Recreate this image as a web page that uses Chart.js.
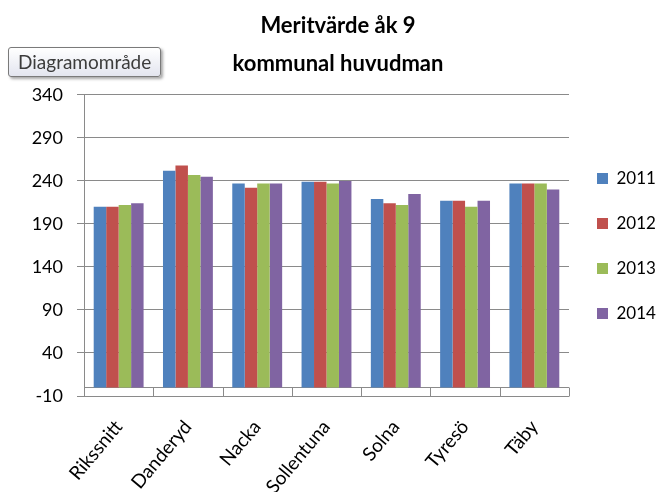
<!DOCTYPE html>
<html>
<head>
<meta charset="utf-8">
<script src="https://cdn.jsdelivr.net/npm/chart.js@4/dist/chart.umd.min.js"></script>
<style>
body{margin:0;background:#fff;}
#wrap{position:relative;width:658px;height:492px;}
#tip{
position:absolute;left:8px;top:47px;height:28px;
padding:0 9px;
border:1px solid #7a7a7a;border-radius:3px;
background:linear-gradient(#ffffff,#e3e5ef);
box-shadow:2px 2px 3px rgba(0,0,0,0.35);
font:19px Lato,sans-serif;color:#3c3c3c;line-height:28px;
}
</style>
</head>
<body>
<div id="wrap">
<canvas id="chart" width="658" height="492"></canvas>
<div id="tip">Diagramområde</div>
</div>
<script>
const categories = ["Rikssnitt","Danderyd","Nacka","Sollentuna","Solna","Tyresö","Täby"];
const years = ["2011","2012","2013","2014"];
const v2011 = [210,252,237,239,219,217,237];
const v2012 = [210,258,232,239,214,217,237];
const v2013 = [212,247,237,237,212,210,237];
const v2014 = [214,245,237,240,225,217,230];
const yTicks = [-10,40,90,140,190,240,290,340];
const colors = ["#4f81bd","#c0504d","#9bbb59","#8064a2"];

const series=[v2011,v2012,v2013,v2014];

// the little strip between 0 and -10 with separators
const stripPlugin={
id:"strip",
beforeDatasetsDraw(chart){
const ctx=chart.ctx;
const x=chart.scales.x;
const y=chart.scales.y;
const y0=Math.round(y.getPixelForValue(0))+0.5;
const y1=Math.round(y.getPixelForValue(-10))+0.5;
const step=x.getPixelForValue(1)-x.getPixelForValue(0);
ctx.save();
ctx.strokeStyle="#8a8a8a";
ctx.lineWidth=1;
ctx.beginPath();
ctx.moveTo(chart.chartArea.left,y0);
ctx.lineTo(chart.chartArea.right,y0);
for(let i=0;i<=categories.length;i++){
let px=Math.round(x.getPixelForValue(0)-step/2+i*step)+0.5;
ctx.moveTo(px,y0);
ctx.lineTo(px,y1);
}
ctx.stroke();
ctx.restore();
}
};

new Chart(document.getElementById("chart"),{
type:"bar",
data:{
labels:categories,
datasets:years.map((yr,i)=>({
label:yr,
data:series[i],
backgroundColor:colors[i],
borderWidth:0,
categoryPercentage:0.72,
barPercentage:1
}))
},
options:{
responsive:false,
animation:false,
layout:{padding:{left:18,right:0,top:0,bottom:0}},
plugins:{
tooltip:{enabled:false},
title:{
display:true,
text:["Meritvärde åk 9","kommunal huvudman"],
color:"#000",
font:{family:"Lato",size:22,weight:"bold",lineHeight:1.727},
padding:{top:7,bottom:12}
},
legend:{
position:"right",
maxWidth:89,
labels:{
boxWidth:11,
boxHeight:11,
padding:28,
color:"#000",
font:{family:"Lato",size:17}
}
}
},
scales:{
x:{
grid:{display:false},
border:{display:false},
ticks:{
color:"#000",
font:{family:"Lato",size:19},
minRotation:50,
maxRotation:50,
padding:12
},
afterFit(s){s.height=96;}
},
y:{
min:-10,
max:340,
afterBuildTicks(s){s.ticks=yTicks.map(v=>({value:v}));},
grid:{color:"#8a8a8a",lineWidth:1,tickLength:7},
border:{color:"#8a8a8a"},
ticks:{
color:"#000",
font:{family:"Lato",size:18},
padding:14
},
afterFit(s){s.width=66;}
}
}
},
plugins:[stripPlugin]
});
</script>
</body>
</html>
